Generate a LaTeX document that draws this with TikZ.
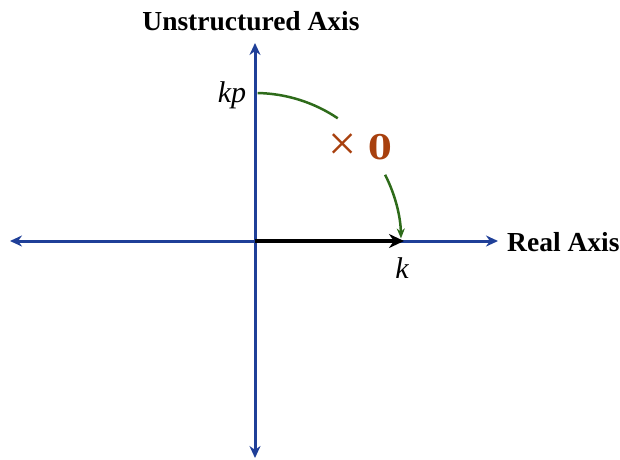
\documentclass[tikz,border=0pt]{standalone}
\usepackage{fontspec}
\setmainfont{Liberation Serif}
\newfontfamily\zerofont{DejaVu Serif}
\usetikzlibrary{arrows.meta}
\definecolor{axisblue}{HTML}{1F3F98}
\definecolor{arcgreen}{HTML}{2E6B1A}
\definecolor{zerocol}{HTML}{A8400E}
\begin{document}
\begin{tikzpicture}[x=1pt,y=-1pt,
  axis/.style={draw=axisblue,line width=3pt,-{Stealth[length=12pt,width=11pt]}},
  lbl/.style={font=\fontsize{27.5}{30}\selectfont\bfseries,inner sep=0pt},
  mlbl/.style={font=\fontsize{30}{32}\selectfont\itshape,inner sep=0pt},
  garc/.style={draw=arcgreen,line width=2.5pt}]
\useasboundingbox (0,0) rectangle (620,459);
\coordinate (O) at (255,241);
\coordinate (L) at (10,241);
\coordinate (R) at (498,241);
\coordinate (T) at (255,43);
\coordinate (B) at (255,458);
\draw[axis] (O) -- (L);
\draw[axis] (O) -- (R);
\draw[axis] (O) -- (T);
\draw[axis] (O) -- (B);
\coordinate (K) at (404,241);
\draw[line width=4.5pt,-{Stealth[length=15pt,width=14pt]}] (O) -- (K);
\node[lbl,anchor=center] (ua) at (251,21) {Unstructured Axis};
\node[lbl,anchor=west] (ra) at (507,242) {Real Axis};
\node[mlbl] (kp) at (232,95) {kp};
\node[mlbl] (k) at (402,268) {k};
\node[inner sep=0pt,text=zerocol,font=\fontsize{50}{52}\selectfont] (x) at (343,147) {×};
\node[inner sep=0pt,text=zerocol,font=\zerofont\bfseries\fontsize{34}{36}\selectfont] (z) at (380,147) {0};
\draw[garc] (O) ++(-89:148) arc[start angle=-89,end angle=-56,radius=148];
\draw[garc,-{Stealth[length=10pt,width=8pt]}] (O) ++(-27:146) arc[start angle=-27,end angle=-1,radius=146];
\end{tikzpicture}
\end{document}
